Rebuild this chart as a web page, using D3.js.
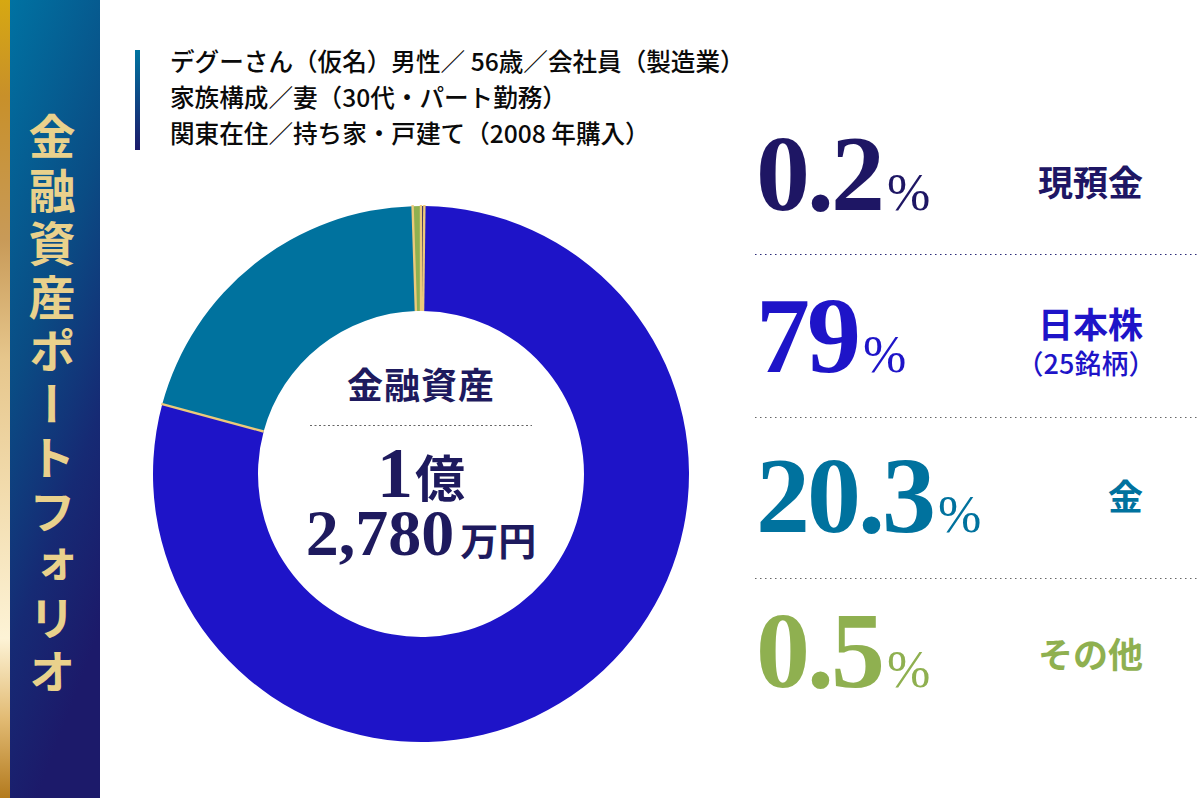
<!DOCTYPE html>
<html>
<head>
<meta charset="utf-8">
<script src="https://cdn.jsdelivr.net/npm/d3@7"></script>
<style>
html,body{margin:0;padding:0;background:#fff;}
svg{display:block;}
</style>
</head>
<body>
<svg id="chart" width="1200" height="798"></svg>
<script>
// ---- data ----
const categories = ["現預金", "日本株", "金", "その他"];
const values = [0.2, 79, 20.3, 0.5];
const valueLabels = ["0.2", "79", "20.3", "0.5"];
const subLabels = ["", "（25銘柄）", "", ""];
const colors = ["#1e1664", "#1e14c8", "#00729e", "#8fb050"];
const title = "金融資産ポートフォリオ";
const profileLines = [
  "デグーさん（仮名）男性／ 56歳／会社員（製造業）",
  "家族構成／妻（30代・パート勤務）",
  "関東在住／持ち家・戸建て（2008 年購入）"
];
const centerTitle = "金融資産";
const totalOku = "1";
const totalMan = "2,780";

const svg = d3.select("#chart");
const defs = svg.append("defs");
const SANS = "'Noto Sans CJK JP', 'Noto Sans', sans-serif";
const SERIF = "'Liberation Serif', 'DejaVu Serif', serif";

// ---- left band ----
const gold = defs.append("linearGradient").attr("id","gold").attr("x1",0).attr("y1",0).attr("x2",0).attr("y2",1);
[[0,"#d6a812"],[0.12,"#c8902a"],[0.3,"#c89a58"],[0.45,"#e6c68c"],[0.62,"#f2dcae"],[0.8,"#fdf3d6"],[0.9,"#e2bb74"],[1,"#b37a1e"]]
  .forEach(([o,c])=>gold.append("stop").attr("offset",o).attr("stop-color",c));
const blue = defs.append("linearGradient").attr("id","blueband").attr("x1",0).attr("y1",0).attr("x2",0.3).attr("y2",1);
[[0,"#0072a2"],[0.45,"#0a4c84"],[0.75,"#162a74"],[1,"#1c1a6a"]]
  .forEach(([o,c])=>blue.append("stop").attr("offset",o).attr("stop-color",c));
const barG = defs.append("linearGradient").attr("id","bar").attr("x1",0).attr("y1",0).attr("x2",0).attr("y2",1);
[[0,"#0074a0"],[1,"#1c1a6a"]].forEach(([o,c])=>barG.append("stop").attr("offset",o).attr("stop-color",c));

svg.append("rect").attr("x",0).attr("y",0).attr("width",10).attr("height",798).attr("fill","url(#gold)");
svg.append("rect").attr("x",10).attr("y",0).attr("width",90).attr("height",798).attr("fill","url(#blueband)");
svg.append("text")
  .attr("x",52).attr("y",113)
  .attr("writing-mode","vertical-rl")
  .style("font-family",SANS).style("font-weight",700).style("font-size","47px")
  .style("letter-spacing","6.5px")
  .attr("fill","#e9d18c")
  .text(title);

// ---- profile header ----
svg.append("rect").attr("x",135).attr("y",50).attr("width",5).attr("height",100).attr("fill","url(#bar)");
svg.selectAll("text.profile").data(profileLines).join("text")
  .attr("class","profile")
  .attr("x",170).attr("y",(d,i)=>71+i*36)
  .style("font-family",SANS).style("font-weight",500).style("font-size","24.6px")
  .attr("fill","#0a0a0a")
  .text(d=>d);

// ---- donut ----
const cx = 421, cy = 474, rOuter = 268, rInner = 163;
const pie = d3.pie().sort(null).value(d=>d.v);
const data = categories.map((c,i)=>({c, v: values[i], color: colors[i]}));
const arcs = pie(data);
const arc = d3.arc().innerRadius(rInner).outerRadius(rOuter);
const g = svg.append("g").attr("transform",`translate(${cx},${cy})`);
g.selectAll("path").data(arcs).join("path").attr("d",arc).attr("fill",d=>d.data.color);
// gold separators at slice boundaries
g.selectAll("line.sep").data(arcs).join("line")
  .attr("class","sep")
  .attr("x1",d=>rInner*Math.sin(d.startAngle)).attr("y1",d=>-rInner*Math.cos(d.startAngle))
  .attr("x2",d=>(rOuter+1)*Math.sin(d.startAngle)).attr("y2",d=>-(rOuter+1)*Math.cos(d.startAngle))
  .attr("stroke","#ecca7a").attr("stroke-width",2.4);

// center text
const navy = "#1e1a5e";
svg.append("text").attr("x",cx).attr("y",399).attr("text-anchor","middle")
  .style("font-family",SANS).style("font-weight",700).style("font-size","36px")
  .style("letter-spacing","1px").attr("fill",navy).text(centerTitle);
svg.append("line").attr("x1",310).attr("x2",532).attr("y1",425.5).attr("y2",425.5)
  .attr("stroke","#666").attr("stroke-width",1).attr("stroke-dasharray","2,2.5");
const t1 = svg.append("text").attr("x",cx).attr("y",497).attr("text-anchor","middle").attr("fill",navy);
t1.append("tspan").style("font-family",SERIF).style("font-weight",700).style("font-size","72px").text(totalOku);
t1.append("tspan").style("font-family",SANS).style("font-weight",700).style("font-size","50px").attr("dx",2).text("億");
const t2 = svg.append("text").attr("x",cx).attr("y",555).attr("text-anchor","middle").attr("fill",navy);
t2.append("tspan").style("font-family",SERIF).style("font-weight",700).style("font-size","66px").text(totalMan);
t2.append("tspan").style("font-family",SANS).style("font-weight",700).style("font-size","38px").attr("dx",6).text("万円");

// ---- right legend ----
const rowBase = [210, 372, 532, 687];
const rowLabelY = [196, 338, 510, 668];
const seps = [254, 417, 578];
const sepColors = ["#2a2a78", "#666", "#666"];
seps.forEach((y,i)=>{
  svg.append("line").attr("x1",755).attr("x2",1198).attr("y1",y+0.5).attr("y2",y+0.5)
    .attr("stroke",sepColors[i]).attr("stroke-width",1.2).attr("stroke-dasharray","1.5,3.5");
});
data.forEach((d,i)=>{
  const t = svg.append("text").attr("x",756).attr("y",rowBase[i]).attr("fill",d.color);
  t.append("tspan").style("font-family",SERIF).style("font-weight",700).style("font-size","108px")
    .style("letter-spacing","-3px").text(valueLabels[i]);
  t.append("tspan").style("font-family",SERIF).style("font-weight",400).style("font-size","52px").attr("dx",5).text("%");
  svg.append("text").attr("x",1143).attr("y",rowLabelY[i]).attr("text-anchor","end")
    .style("font-family",SANS).style("font-weight",700).style("font-size","35px")
    .attr("fill",d.color).text(d.c);
  if (subLabels[i]) {
    svg.append("text").attr("x",1086).attr("y",rowLabelY[i]+36).attr("text-anchor","middle")
      .style("font-family",SANS).style("font-weight",500).style("font-size","27px")
      .attr("fill",d.color).text(subLabels[i]);
  }
});
</script>
</body>
</html>
